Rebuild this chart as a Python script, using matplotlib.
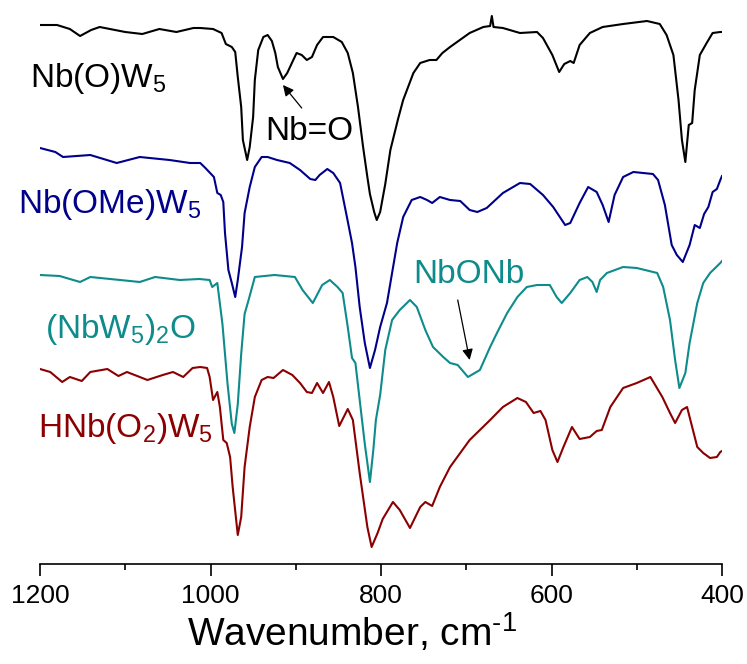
#!/usr/bin/env python3
"""IR spectra of Nb-substituted Lindqvist tungstates, offset stack."""

import matplotlib

matplotlib.use("Agg")
import matplotlib.pyplot as plt

plt.rcParams["font.family"] = ["Liberation Sans", "DejaVu Sans"]
plt.rcParams["mathtext.fontset"] = "custom"
plt.rcParams["mathtext.rm"] = "Liberation Sans"
plt.rcParams["mathtext.it"] = "Liberation Sans:italic"
plt.rcParams["mathtext.bf"] = "Liberation Sans:bold"

# --- spectra (wavenumber, offset intensity in a.u.) ---
wn_nbo = [1200, 1180, 1165, 1153, 1140, 1130, 1100, 1080, 1060, 1040, 1020, 1012,
          997, 987, 982, 975, 971, 968, 964, 962, 957, 954, 950, 948, 944, 938,
          933, 928, 924, 921, 915, 910, 904, 899, 893, 887, 881, 875, 868, 856,
          846, 839, 833, 827, 821, 816, 813, 808, 805, 801, 795, 789, 780, 774,
          762, 754, 743, 735, 728, 719, 696, 680, 672, 670, 668, 657, 637, 617,
          610, 599, 591, 585, 578, 574, 567, 555, 540, 516, 488, 473, 465, 457,
          451, 447, 443, 439, 435, 432, 426, 418, 411, 402, 400]
y_nbo = [539, 539, 535, 528, 534, 537, 532, 530, 535, 532, 536, 536,
         535, 531, 520, 517, 512, 487, 457, 424, 404, 417, 447, 484, 514, 527,
         529, 523, 511, 497, 485, 491, 502, 511, 509, 504, 507, 519, 527, 527,
         522, 511, 491, 457, 417, 387, 370, 352, 344, 352, 380, 414, 445, 464,
         491, 501, 504, 504, 511, 517, 531, 537, 538, 548, 537, 536, 531, 532,
         526, 509, 492, 500, 503, 501, 519, 531, 537, 540, 543, 540, 529, 509,
         464, 424, 402, 439, 441, 474, 509, 521, 531, 532, 532]

wn_ome = [1200, 1182, 1173, 1141, 1110, 1083, 1048, 1024, 1012, 1006, 996, 992,
          988, 985, 983, 979, 975, 971, 968, 963, 960, 954, 948, 940, 933, 922,
          907, 895, 883, 877, 872, 863, 856, 848, 840, 834, 830, 825, 819, 813,
          807, 801, 793, 787, 781, 774, 764, 754, 746, 740, 731, 719, 707, 696,
          687, 676, 657, 637, 625, 610, 598, 584, 578, 567, 557, 547, 540, 533,
          526, 516, 504, 481, 475, 467, 459, 453, 446, 438, 432, 426, 421, 416,
          411, 406, 402, 400]
y_ome = [416, 412, 407, 409, 401, 407, 404, 401, 401, 396, 387, 371,
         369, 362, 331, 294, 281, 267, 284, 317, 351, 377, 397, 407, 407, 404,
         401, 394, 385, 384, 389, 395, 391, 381, 347, 321, 297, 257, 221, 196,
         214, 237, 261, 291, 321, 347, 364, 367, 364, 361, 367, 364, 363, 354,
         352, 356, 371, 381, 380, 369, 357, 339, 341, 361, 377, 372, 359, 342,
         369, 387, 392, 390, 384, 359, 319, 309, 302, 319, 339, 336, 350, 357,
         372, 375, 384, 388]

wn_nbonb = [1200, 1177, 1153, 1141, 1106, 1083, 1065, 1036, 1013, 1001, 998, 992,
            986, 980, 975, 972, 968, 964, 960, 955, 948, 925, 901, 892, 880, 869,
            860, 851, 845, 839, 834, 830, 825, 819, 813, 809, 806, 801, 795, 787,
            778, 766, 758, 748, 739, 727, 719, 710, 698, 684, 672, 664, 652, 640,
            629, 617, 602, 594, 588, 578, 567, 558, 552, 547, 543, 535, 516, 500,
            476, 469, 461, 455, 450, 443, 438, 429, 422, 414, 402, 400]
y_nbonb = [289, 288, 282, 287, 284, 282, 287, 284, 285, 284, 277, 281,
           240, 180, 140, 131, 160, 210, 250, 265, 287, 289, 287, 274, 261, 279,
           284, 277, 271, 237, 206, 201, 164, 120, 82, 114, 144, 169, 214, 244,
           254, 264, 257, 234, 217, 207, 201, 199, 187, 194, 217, 231, 251, 267,
           277, 279, 279, 267, 261, 271, 284, 287, 282, 272, 284, 291, 297, 296,
           291, 277, 244, 204, 176, 191, 221, 261, 281, 291, 301, 303]

wn_o2 = [1200, 1188, 1174, 1165, 1151, 1141, 1121, 1108, 1098, 1074, 1056, 1044,
         1032, 1021, 1012, 1004, 1001, 997, 992, 989, 985, 981, 977, 974, 969,
         968, 964, 960, 954, 948, 940, 933, 926, 915, 904, 895, 887, 881, 875,
         868, 861, 856, 849, 839, 833, 825, 816, 811, 804, 798, 786, 778, 766,
         754, 748, 740, 731, 719, 696, 672, 657, 640, 630, 621, 613, 607, 599,
         593, 586, 576, 567, 555, 547, 541, 531, 516, 500, 484, 470, 461, 455,
         447, 441, 429, 422, 414, 406, 402, 400]
y_o2 = [195, 192, 182, 187, 183, 192, 195, 188, 192, 184, 189, 192,
        187, 196, 197, 196, 187, 164, 172, 157, 124, 121, 107, 77, 37,
        29, 47, 97, 137, 167, 184, 187, 186, 194, 189, 181, 172, 171, 181,
        171, 182, 167, 138, 155, 144, 91, 37, 17, 31, 45, 62, 54, 36,
        57, 62, 58, 77, 97, 124, 144, 157, 166, 162, 151, 153, 144, 114,
        102, 117, 137, 125, 127, 133, 134, 157, 176, 181, 187, 167, 151, 141,
        154, 157, 117, 111, 106, 107, 112, 113]

labels = [r"Nb(O)W$_5$", r"Nb(OMe)W$_5$", r"(NbW$_5$)$_2$O", r"HNb(O$_2$)W$_5$"]
colors = ["black", "#00008B", "#0E8B8B", "#8B0000"]
label_x = [1212, 1226, 1194, 1202]
label_y = [477, 351, 226, 127]

xticks = [1200, 1000, 800, 600, 400]
minor_ticks = [1100, 900, 700, 500]

fig = plt.figure(figsize=(7.47, 6.64), dpi=100)
ax = fig.add_axes([40 / 747, 100 / 664, 682 / 747, 564 / 664])

series = [(wn_nbo, y_nbo), (wn_ome, y_ome), (wn_nbonb, y_nbonb), (wn_o2, y_o2)]
for (wn, y), color, lab, lx, ly in zip(series, colors, labels, label_x, label_y):
    ax.plot(wn, y, color=color, lw=1.5, solid_joinstyle="round")
    ax.text(lx, ly, lab, color=color, fontsize=24, ha="left", va="baseline",
            clip_on=False)

# band assignments
ax.annotate("", xy=(915, 479), xytext=(893, 456),
            arrowprops=dict(arrowstyle="-|>", color="black", lw=0.9,
                            mutation_scale=16, shrinkA=0, shrinkB=0))
ax.text(936, 424, "Nb=O", color="black", fontsize=24, ha="left", va="baseline")
ax.annotate("", xy=(696, 204), xytext=(710, 264),
            arrowprops=dict(arrowstyle="-|>", color="black", lw=0.9,
                            mutation_scale=16, shrinkA=0, shrinkB=0))
ax.text(762, 281, "NbONb", color=colors[2], fontsize=24, ha="left", va="baseline")

ax.set_xlim(1200, 400)
ax.set_ylim(0, 564)
ax.set_xticks(xticks)
ax.set_xticks(minor_ticks, minor=True)
ax.tick_params(axis="x", which="major", direction="out", length=8.6, width=1.2,
               labelsize=19, pad=6)
ax.tick_params(axis="x", which="minor", direction="out", length=4.3, width=1.2)
ax.set_yticks([])
for side in ("left", "right", "top"):
    ax.spines[side].set_visible(False)
ax.spines["bottom"].set_linewidth(1.2)
ax.set_xlabel(r"Wavenumber, cm$^{\text{-1}}$", fontsize=28)
ax.xaxis.set_label_coords(0.457, -0.083, transform=ax.transAxes)
ax.xaxis.label.set_va("top")

fig.savefig("out.png", dpi=100)
